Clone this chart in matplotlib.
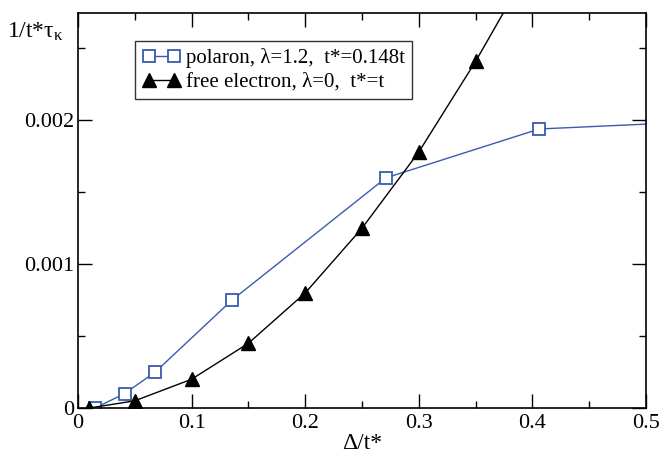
import matplotlib
matplotlib.use("Agg")
import matplotlib.pyplot as plt
from matplotlib.ticker import MultipleLocator, FixedLocator

plt.rcParams['font.family'] = ['Liberation Serif', 'DejaVu Serif']
plt.rcParams['mathtext.fontset'] = 'stix'

# Data
polaron_x = [0.015, 0.041, 0.068, 0.1355, 0.271, 0.406, 0.6]
polaron_y = [0.0, 0.0001, 0.00025, 0.00075, 0.0016, 0.00194, 0.00201]
free_x = [0.01, 0.05, 0.10, 0.15, 0.20, 0.25, 0.30, 0.35, 0.40]
free_y = [0.0, 0.00005, 0.0002, 0.00045, 0.0008, 0.00125, 0.00178, 0.00241, 0.0031]

polaron_label = "polaron, λ=1.2,  t*=0.148t"
free_label = "free electron, λ=0,  t*=t"
ytick_vals = [0, 0.001, 0.002]
ytick_labels = ["0", "0.001", "0.002"]
xtick_vals = [0, 0.1, 0.2, 0.3, 0.4, 0.5]
xtick_labels = ["0", "0.1", "0.2", "0.3", "0.4", "0.5"]

fig = plt.figure(figsize=(6.61, 4.53), dpi=100)
ax = fig.add_axes([78/661, 1 - 408/453, (646-78)/661, (408-12.5)/453])

blue = '#3a5bb0'
ax.plot(polaron_x, polaron_y, '-', color=blue, lw=1.0, marker='s', ms=9,
        mfc='white', mec=blue, mew=1.3, label=polaron_label, clip_on=True)
ax.plot(free_x, free_y, '-', color='black', lw=1.0, marker='^', ms=10,
        mfc='black', mec='black', label=free_label, clip_on=True)

ax.set_xlim(0, 0.5)
ax.set_ylim(0, 0.00275)
ax.xaxis.set_major_locator(FixedLocator(xtick_vals))
ax.set_xticklabels(xtick_labels)
ax.yaxis.set_major_locator(FixedLocator(ytick_vals))
ax.set_yticklabels(ytick_labels)
ax.xaxis.set_minor_locator(MultipleLocator(0.05))
ax.yaxis.set_minor_locator(MultipleLocator(0.0005))
ax.tick_params(which='both', direction='in', top=True, right=True, labelsize=16, width=1)
ax.tick_params(which='major', length=10, pad=4)
ax.tick_params(axis='y', which='major', pad=3)
ax.tick_params(which='minor', length=5)
for s in ax.spines.values():
    s.set_linewidth(1.2)

ax.set_xlabel("Δ/t*", fontsize=17, labelpad=0)
fig.text(35/661, 1 - 32/453, r"1/t*$\mathregular{τ_{κ}}$", fontsize=17, ha='center', va='center')

leg = ax.legend(loc='upper left', bbox_to_anchor=((135-78)/568, 1 - (41-12.5)/395.5),
                fontsize=15, frameon=True, fancybox=False, framealpha=1,
                edgecolor='#333333', handlelength=1.8, handletextpad=0.3,
                borderpad=0.35, labelspacing=0.2, borderaxespad=0,
                numpoints=2, markerscale=1.0)
leg.get_frame().set_linewidth(1.0)

fig.savefig("out.png", dpi=100)
